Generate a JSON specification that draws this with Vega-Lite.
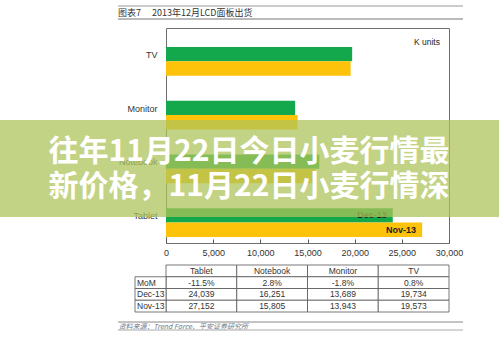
{
  "$schema": "https://vega.github.io/schema/vega-lite/v6.json",
  "autosize": {"type": "none"},
  "padding": {"left": 166, "top": 28, "right": 50, "bottom": 95},
  "width": 283,
  "height": 215,
  "background": "white",
  "config": {"view": {"stroke": "#6f6f6f", "strokeWidth": 1}, "font": "Liberation Sans"},
  "datasets": {
    "bars": [
      {"cat": "TV", "month": "Dec-13", "value": 19734},
      {"cat": "TV", "month": "Nov-13", "value": 19573},
      {"cat": "Monitor", "month": "Dec-13", "value": 13689},
      {"cat": "Monitor", "month": "Nov-13", "value": 13943},
      {"cat": "Notebook", "month": "Dec-13", "value": 16251},
      {"cat": "Notebook", "month": "Nov-13", "value": 15805},
      {"cat": "Tablet", "month": "Dec-13", "value": 24039},
      {"cat": "Tablet", "month": "Nov-13", "value": 27152}
    ],
    "table": [
      {"row": "hdr", "col": "Tablet", "text": "Tablet"},
      {"row": "hdr", "col": "Notebook", "text": "Notebook"},
      {"row": "hdr", "col": "Monitor", "text": "Monitor"},
      {"row": "hdr", "col": "TV", "text": "TV"},
      {"row": "MoM", "col": "Tablet", "text": "-11.5%"},
      {"row": "MoM", "col": "Notebook", "text": "2.8%"},
      {"row": "MoM", "col": "Monitor", "text": "-1.8%"},
      {"row": "MoM", "col": "TV", "text": "0.8%"},
      {"row": "Dec-13", "col": "Tablet", "text": "24,039"},
      {"row": "Dec-13", "col": "Notebook", "text": "16,251"},
      {"row": "Dec-13", "col": "Monitor", "text": "13,689"},
      {"row": "Dec-13", "col": "TV", "text": "19,734"},
      {"row": "Nov-13", "col": "Tablet", "text": "27,152"},
      {"row": "Nov-13", "col": "Notebook", "text": "15,805"},
      {"row": "Nov-13", "col": "Monitor", "text": "13,943"},
      {"row": "Nov-13", "col": "TV", "text": "19,573"}
    ]
  },
  "layer": [
    {
      "data": {"name": "bars"},
      "layer": [
        {
          "mark": {"type": "bar"},
          "encoding": {
            "x": {"field": "value", "type": "quantitative", "scale": {"domain": [0, 30000], "nice": false, "zero": true},
              "axis": {"values": [0, 5000, 10000, 15000, 20000, 25000, 30000], "format": ",.0f", "grid": false, "domain": false, "tickSize": -4, "tickColor": "#555", "labelPadding": 9, "labelFontSize": 9, "labelColor": "#333", "labelFlush": false, "labelOverlap": false,
                "title": "资料来源：Trend Force、平安证券研究所", "titleFont": "Noto Sans CJK SC", "titleFontSize": 7, "titleFontStyle": "italic", "titleFontWeight": "normal", "titleColor": "#6b7b8c", "titleX": -48, "titleY": 83, "titleAlign": "left", "titleAnchor": "start", "titleBaseline": "middle"}},
            "y": {"field": "cat", "type": "nominal", "sort": ["TV", "Monitor", "Notebook", "Tablet"], "scale": {"paddingInner": 0, "paddingOuter": 0},
              "axis": {"title": null, "domain": false, "ticks": false, "labelPadding": 9, "labelFontSize": 9, "labelColor": "#333"}},
            "yOffset": {"field": "month", "type": "nominal", "sort": ["Dec-13", "Nov-13"], "scale": {"paddingInner": 0, "paddingOuter": 0.86, "align": 0.76}},
            "color": {"field": "month", "type": "nominal", "scale": {"domain": ["Dec-13", "Nov-13"], "range": ["#13a84c", "#fdc20a"]}, "legend": null}
          }
        },
        {
          "transform": [{"filter": "datum.cat === 'Tablet'"}],
          "mark": {"type": "text", "align": "right", "baseline": "middle", "dx": -6, "fontSize": 9, "fontWeight": "bold", "color": "#222"},
          "encoding": {
            "x": {"field": "value", "type": "quantitative"},
            "y": {"field": "cat", "type": "nominal", "sort": ["TV", "Monitor", "Notebook", "Tablet"]},
            "yOffset": {"field": "month", "type": "nominal", "sort": ["Dec-13", "Nov-13"]},
            "text": {"field": "month"}
          }
        },
        {
          "data": {"values": [{"note": "K units"}]},
          "mark": {"type": "text", "align": "right", "baseline": "middle", "dx": -9, "dy": -13, "fontSize": 8.5, "color": "#222"},
          "encoding": {
            "x": {"datum": 30000, "type": "quantitative"},
            "y": {"datum": "TV", "type": "nominal"},
            "text": {"field": "note"}
          }
        }
      ]
    },
    {
      "data": {"name": "table"},
      "encoding": {
        "x": {"field": "col", "type": "nominal", "sort": ["Tablet", "Notebook", "Monitor", "TV"], "scale": {"domain": ["Tablet", "Notebook", "Monitor", "TV"], "paddingInner": 0, "paddingOuter": 0}, "axis": null},
        "y": {"field": "row", "type": "nominal", "scale": {"domain": ["hdr", "MoM", "Dec-13", "Nov-13"], "range": [237, 284], "paddingInner": 0, "paddingOuter": 0}, "axis": null}
      },
      "layer": [
        {"mark": {"type": "rect", "fill": "white", "stroke": "#555", "strokeWidth": 0.8}},
        {"transform": [{"filter": "datum.row === 'hdr'"}], "mark": {"type": "text", "fontSize": 8.5, "color": "#333", "baseline": "middle"}, "encoding": {"text": {"field": "text"}}},
        {"transform": [{"filter": "datum.row !== 'hdr'"}], "mark": {"type": "text", "font": "Liberation Sans Narrow, Liberation Sans", "fontSize": 8.5, "color": "#333", "baseline": "middle"}, "encoding": {"text": {"field": "text"}}}
      ]
    },
    {
      "data": {"name": "table"},
      "transform": [{"filter": "datum.col === 'Tablet' && datum.row !== 'hdr'"}],
      "encoding": {
        "x": {"datum": "h", "type": "nominal", "scale": {"domain": ["h"], "range": [-31, 0], "paddingInner": 0, "paddingOuter": 0}, "axis": null},
        "y": {"field": "row", "type": "nominal", "scale": {"domain": ["hdr", "MoM", "Dec-13", "Nov-13"], "range": [237, 284], "paddingInner": 0, "paddingOuter": 0}, "axis": null}
      },
      "layer": [
        {"mark": {"type": "rect", "fill": "white", "stroke": "#555", "strokeWidth": 0.8}},
        {"mark": {"type": "text", "align": "left", "dx": 2, "fontSize": 8.5, "color": "#333", "baseline": "middle"}, "encoding": {"x": {"datum": "h", "type": "nominal", "bandPosition": 0}, "text": {"field": "row"}}}
      ]
    },
    {
      "data": {"values": [{"title": "图表7\u3000 2013年12月LCD面板出货", "line1": "往年11月22日今日小麦行情最", "line2": "新价格，11月22日小麦行情深"}]},
      "encoding": {
        "y": {"datum": 92, "type": "quantitative", "scale": {"domain": [0, 215], "reverse": true, "nice": false, "zero": false}, "axis": null}
      },
      "layer": [
        {"mark": {"type": "rule", "stroke": "#999", "strokeWidth": 1},
          "encoding": {"x": {"datum": -5088, "type": "quantitative", "scale": {"domain": [0, 30000], "nice": false}, "axis": null}, "x2": {"datum": 31484}, "y": {"datum": -22, "type": "quantitative"}}},
        {"mark": {"type": "rule", "stroke": "#777", "strokeWidth": 1},
          "encoding": {"x": {"datum": -5088, "type": "quantitative"}, "x2": {"datum": 31484}, "y": {"datum": -9, "type": "quantitative"}}},
        {"mark": {"type": "text", "font": "Noto Sans CJK SC", "fontSize": 9, "color": "#333", "align": "left", "baseline": "middle"},
          "encoding": {"x": {"datum": -5088, "type": "quantitative"}, "y": {"datum": -15, "type": "quantitative"}, "text": {"field": "title"}}},
        {"mark": {"type": "rule", "stroke": "#888", "strokeWidth": 1},
          "encoding": {"x": {"datum": -5088, "type": "quantitative"}, "x2": {"datum": 31484}, "y": {"datum": 294, "type": "quantitative"}}},
        {"mark": {"type": "rule", "stroke": "#aaa", "strokeWidth": 1},
          "encoding": {"x": {"datum": -5088, "type": "quantitative"}, "x2": {"datum": 31484}, "y": {"datum": 302, "type": "quantitative"}}},
        {"mark": {"type": "rect", "fill": "#aec35a", "opacity": 0.74},
          "encoding": {"x": {"datum": -17597, "type": "quantitative"}, "x2": {"datum": 35300}, "y": {"datum": 92, "type": "quantitative"}, "y2": {"datum": 189}}},
        {"mark": {"type": "text", "font": "Noto Sans CJK SC", "fontSize": 30, "fontWeight": "bold", "color": "white", "align": "center", "baseline": "middle"},
          "encoding": {"x": {"datum": 8799, "type": "quantitative"}, "y": {"datum": 124, "type": "quantitative"}, "text": {"field": "line1"}}},
        {"mark": {"type": "text", "font": "Noto Sans CJK SC", "fontSize": 30, "fontWeight": "bold", "color": "white", "align": "center", "baseline": "middle"},
          "encoding": {"x": {"datum": 8799, "type": "quantitative"}, "y": {"datum": 159, "type": "quantitative"}, "text": {"field": "line2"}}}
      ]
    }
  ],
  "resolve": {"scale": {"x": "independent", "y": "independent"}, "axis": {"x": "independent", "y": "independent"}}
}
